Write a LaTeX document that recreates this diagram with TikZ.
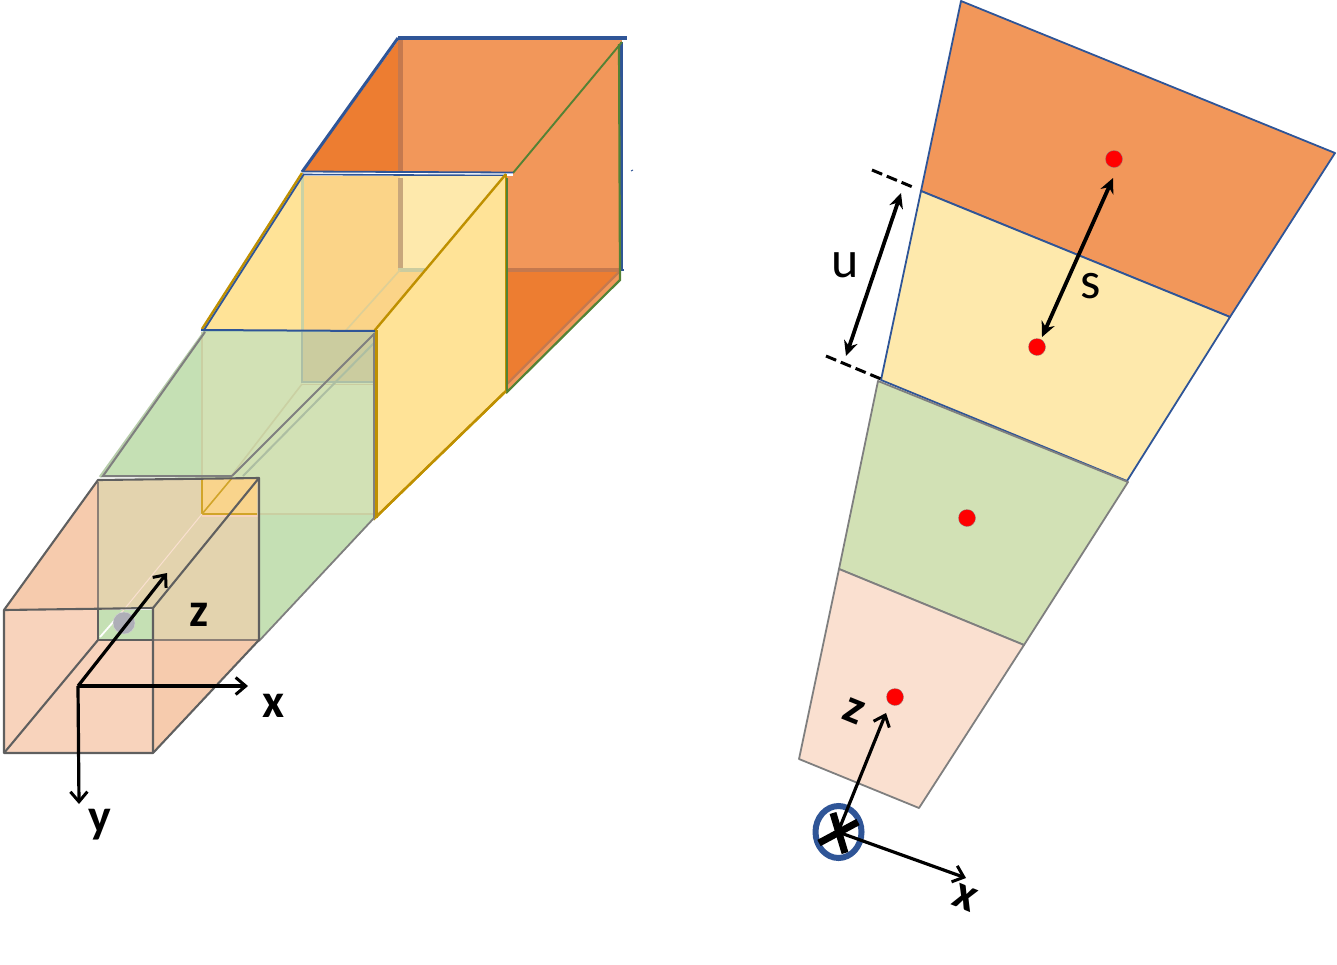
\documentclass[tikz,border=0pt]{standalone}
\usepackage{fontspec}
\setmainfont{Carlito}
\usetikzlibrary{arrows.meta}
\definecolor{org}{HTML}{ED7D31}
\definecolor{orgl}{HTML}{F2975A}
\definecolor{orgd}{HTML}{C5794E}
\definecolor{blu}{HTML}{2F5597}
\definecolor{grn}{HTML}{548235}
\definecolor{gld}{HTML}{BF9000}
\definecolor{ylw}{HTML}{FFE397}
\definecolor{ylwb}{HTML}{FBD488}
\definecolor{ylwc}{HTML}{FEE9AC}
\definecolor{gfill}{HTML}{C5E0B4}
\definecolor{gy}{HTML}{D2E1B5}
\definecolor{gd}{HTML}{CBCC9F}
\definecolor{pk}{HTML}{F6CBAD}
\definecolor{pkl}{HTML}{F8D3BC}
\definecolor{tanc}{HTML}{E3D3AE}
\definecolor{gyl}{HTML}{7F7F7F}
\definecolor{dk}{HTML}{5F5F5F}
\tikzset{
  x=1pt,y=-1pt,
  boxedge/.style={draw=dk,line width=2.1pt,line join=round},
  axisarrow/.style={draw=black,line width=3.2pt,-{Straight Barb[length=10pt,width=17pt,line width=3pt]}},
  dimarrow/.style={draw=black,line width=3.8pt,{Stealth[length=15pt,width=14pt]}-{Stealth[length=15pt,width=14pt]}},
  ticks/.style={draw=black,line width=3pt,dash pattern=on 11pt off 5pt},
  axlabel/.style={font=\fontsize{48}{48}\selectfont\bfseries,inner sep=0pt},
  dimlabel/.style={font=\fontsize{52}{52}\selectfont,inner sep=0pt},
  reddot/.style={circle,fill=red,draw=gray,densely dotted,line width=.7pt,minimum size=17pt,inner sep=0pt},
  sheet/.style={line width=1.8pt,line join=round}
}
\begin{document}
\begin{tikzpicture}
\useasboundingbox (0,0) rectangle (1337,964);
% ---------- left: orange box
\fill[org] (303,172)--(400,38)--(400,172)--cycle;
\fill[orgl] (400,38)--(622,38)--(620,270)--(400,270)--cycle;
\fill[org] (506,270)--(620,270)--(620,279)--(506,392)--cycle;
\fill[orgl] (620,272)--(620,279)--(506,392)--(506,384)--cycle;
\draw[orgd,line width=2.4pt] (619,272)--(507,384);
\draw[orgd,line width=5pt] (400,40)--(400,172);
\draw[orgd,line width=4pt] (506,270)--(620,270);
\draw[blu,line width=3.4pt] (398,38)--(627,38);
\draw[blu,line width=3pt] (398,38)--(302,172);
\draw[blu,line width=3.4pt] (621.5,42)--(621.5,270);
\draw[blu,line width=1.2pt] (620,270)--(624,270);
\draw[grn,line width=1.9pt] (622,42)--(513,173);
\draw[grn,line width=2.2pt] (619,44)--(620,280)--(506,393);
\draw[blu,line width=1pt] (631,171)--(633,170);
% ---------- left: yellow box
\fill[white] (303,172) rectangle (513,176);
\draw[blu,line width=1.8pt] (303,171.5)--(513,172.5);
\draw[blu,line width=1.6pt] (303,174.5)--(506,175.5);
\fill[ylwb] (302,176)--(400,176)--(400,270)--(425,270)--(375,330)--(302,330)--cycle;
\fill[ylwc] (400,176)--(506,176)--(425,270)--(400,270)--cycle;
\fill[ylw] (202,330)--(302,174)--(302,330)--cycle;
\fill[ylw] (375,330)--(506,174)--(506,392)--(375,518)--cycle;
\draw[orgd!45!gd,line width=5pt] (400,178)--(400,270);
\draw[gd,line width=3.4pt] (398,270)--(425,270);
\draw[gd!70!gfill,line width=3pt] (302,177)--(302,330);
\draw[gd!60!ylwb,line width=1.6pt] (400,270)--(340,337);
\draw[gld,line width=2.4pt] (202,329)--(302,173);
\draw[blu,line width=1.8pt] (204,330)--(304,174);
\draw[gld,line width=2.4pt] (506,174)--(375,330)--(375,518)--(506,391);
\draw[gld,line width=2.4pt] (506,174)--(506,391);
\draw[grn,line width=1.8pt] (507,178)--(507,393);
% ---------- left: green box
\fill[gfill] (100,477)--(205,331)--(375,331)--(375,518)--(259,641)--(259,478)--cycle;
\fill[gy] (202,332) rectangle (375,515);
\fill[gd] (302,332) rectangle (375,382);
\draw[gd!85!gfill,line width=2pt] (202,332)--(202,514)--(375,514);
\draw[gd,line width=1.8pt] (302,384.5)--(375,384.5);
\draw[gfill!70!blu!60!gd,line width=2pt] (302,332)--(302,382)--(375,382);
\draw[gd!80!gfill,line width=1.6pt] (302,384)--(202,514);
\draw[gfill!65!gray,line width=2pt] (375,342)--(243,476);
\draw[gyl,line width=2pt] (375,333)--(232,476);
\draw[gfill!80!gray,line width=2.6pt] (100,477)--(205,331);
\draw[gyl,line width=2pt] (232,476)--(103,476)--(205,332);
\draw[gyl,line width=1.8pt] (374,333)--(374,518)--(259,641);
\draw[gld,line width=2.6pt] (376.5,330)--(376.5,518);
\draw[gld,line width=2.4pt] (375,518)--(506,391);
\draw[blu,line width=2pt] (201,330)--(375,331);
% ---------- left: peach box
\fill[pk] (4,610)--(98,480)--(98,640)--(4,753)--cycle;
\fill[pk] (4,753)--(98,640)--(259,640)--(153,753)--cycle;
\fill[tanc] (98,480)--(259,478)--(259,640)--(153,640)--(153,608)--(98,610)--cycle;
\fill[gfill] (98,610) rectangle (153,640);
\fill[pkl] (4,610)--(98,610)--(98,640)--(153,640)--(153,753)--(4,753)--cycle;
\fill[ylwb!90!tanc] (202,478) rectangle (257,514);
\draw[pkl,line width=1.4pt] (202,516)--(258,516);
\draw[gld!70!ylwb,line width=1.8pt] (202,478)--(202,514)--(257,514);
\draw[gld!70!ylwb,line width=1.6pt] (202,514)--(232,478);
\draw[pkl!70!white,line width=1pt] (202,514)--(122,612);
\draw[white,line width=1.8pt] (100,637)--(122,612);
\fill[gray!40!blue!10!gray!60!white,draw=gray!35] (124,623) circle (11);
\draw[boxedge,draw=dk!70!pk] (98,482)--(98,610);
\draw[boxedge,draw=dk!70!pk] (153,640)--(259,640);
\draw[boxedge] (98,610)--(98,640)--(153,640);
\draw[boxedge] (98,640)--(4,753);
\draw[boxedge] (4,610)--(98,480)--(259,478)--(259,640)--(153,753)--(4,753)--cycle;
\draw[boxedge] (4,610)--(153,608)--(153,753);
\draw[boxedge] (153,608)--(259,478);
% ---------- left: axes
\coordinate (lo) at (78,686);
\coordinate (lz) at (167,573);
\coordinate (lx) at (248,686);
\coordinate (ly) at (79,804);
\draw[axisarrow] (lo)--(lz);
\draw[axisarrow] (lo)--(lx);
\draw[axisarrow] (lo)--(ly);
\node[axlabel] (tz) at (199,615) {z};
\node[axlabel] (tx) at (274,706) {x};
\node[axlabel] (ty) at (100,825) {y};
% ---------- right: sectors
\path[sheet,fill=orgl,draw=blu] (961,1)--(1335,153)--(1230,317)--(921,191)--cycle;
\path[sheet,fill=ylwc,draw=blu] (921,191)--(1230,317)--(1127,481)--(881,380)--cycle;
\path[sheet,fill=gy,draw=gyl] (878,381)--(1128,482)--(1024,645)--(839,569)--cycle;
\path[sheet,fill=pkl!70!white,draw=gyl] (839,569)--(1024,645)--(919,808)--(799,759)--cycle;
\node[reddot] (d1) at (1114,159) {};
\node[reddot] (d2) at (1037,347) {};
\node[reddot] (d3) at (967,518) {};
\node[reddot] (d4) at (895,697) {};
\coordinate (sa) at (1113,178);
\coordinate (sb) at (1042,337);
\coordinate (ua) at (901,193);
\coordinate (ub) at (846,356);
\draw[dimarrow] (sa)--(sb);
\draw[dimarrow] (ua)--(ub);
\coordinate (t1a) at (872,170);
\coordinate (t1b) at (915,188);
\coordinate (t2a) at (826,356);
\coordinate (t2b) at (881,379);
\draw[ticks] (t1a)--(t1b);
\draw[ticks] (t2a)--(t2b);
\node[dimlabel] (tu) at (845,265) {u};
\node[dimlabel] (ts) at (1091,286) {s};
% ---------- right: axes
\draw[blu,line width=6pt] (838.5,832) ellipse [x radius=23,y radius=26];
\coordinate (ro) at (838,832);
\coordinate (rz) at (886,713);
\coordinate (rx) at (966,878);
\draw[black,line width=7pt] (833,813)--(845,853);
\draw[black,line width=7pt] (819,843)--(858,822);
\draw[axisarrow] (ro)--(rz);
\draw[axisarrow] (ro)--(rx);
\node[axlabel,rotate=-22] (trz) at (854,711) {z};
\node[axlabel,rotate=-22] (trx) at (965,898) {x};
\end{tikzpicture}
\end{document}
